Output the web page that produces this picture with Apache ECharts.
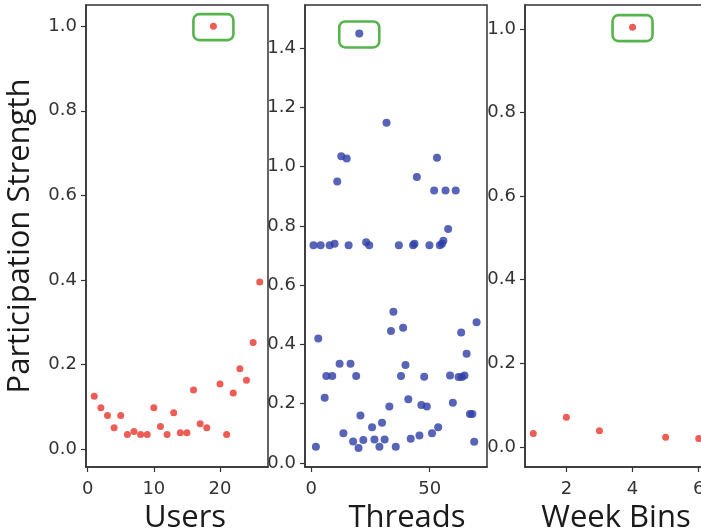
<!DOCTYPE html>
<html><head><meta charset="utf-8">
<script src="https://cdn.jsdelivr.net/npm/echarts@6/dist/echarts.min.js"></script>
<style>html,body{margin:0;padding:0;background:#fff}#c{width:701px;height:532px}</style>
</head><body><div id="c"></div>
<script>
// ---- data ----
const userIds = [1,2,3,4,5,6,7,8,9,10,11,12,13,14,15,16,17,18,19,20,21,22,23,24,25,26];
const userStrength = [0.125,0.098,0.080,0.051,0.080,0.035,0.042,0.035,0.035,0.098,0.054,0.035,0.086,0.039,0.039,0.140,0.060,0.051,1.000,0.154,0.035,0.133,0.190,0.163,0.252,0.395];

const threadIds = [1,2,3,4,5.7,6.4,7.8,8.9,9.9,11,
  12,12.7,13.6,15,15.8,16.6,17.7,19,20,20.3,
  20.8,22,23.2,24.5,25.7,26.7,28.8,29.9,31,31.8,
  33,33.7,34.7,35.7,37,37.9,38.8,39.8,41,42,
  43,43.6,44.6,45.7,46.5,47.7,48.8,49.9,51,51.9,
  53.1,53.6,54.3,55.2,55.8,56.7,57.8,58.6,59.8,61,
  62.2,63.3,63.6,64.7,65.6,67,68,68.8,69.8];
const threadStrength = [0.735,0.054,0.420,0.735,0.220,0.293,0.735,0.293,0.740,0.950,
  0.335,1.035,0.100,1.028,0.735,0.335,0.072,0.293,0.050,1.450,
  0.160,0.077,0.745,0.735,0.120,0.079,0.054,0.135,0.079,1.148,
  0.190,0.445,0.510,0.054,0.735,0.293,0.456,0.330,0.215,0.081,
  0.735,0.740,0.965,0.092,0.195,0.291,0.190,0.735,0.100,0.920,
  1.030,0.120,0.735,0.740,0.750,0.920,0.790,0.295,0.203,0.920,
  0.290,0.440,0.290,0.295,0.368,0.165,0.165,0.071,0.475];

const weekBins = [1,2,3,4,5,6];
const weekStrength = [0.032,0.071,0.039,1.004,0.023,0.020];

const userTicks = [0,10,20];
const threadTicks = [0,50];
const weekTicks = [2,4,6];
const yTicksUsers = [0,0.2,0.4,0.6,0.8,1.0];
const yTicksThreads = [0,0.2,0.4,0.6,0.8,1.0,1.2,1.4];
const yTicksWeeks = [0,0.2,0.4,0.6,0.8,1.0];

// ---- styling ----
const axisColor = '#333';
const tickFont = {color:'#333', fontFamily:'DejaVu Sans', fontSize:18};
const nameFont = {color:'#1a1a1a', fontFamily:'Open Sans', fontSize:31};

function xAxisCfg(idx, min, max, ticks, name, padLeft) {
  return {
    type:'value', gridIndex:idx, min:min, max:max,
    name:name, nameLocation:'middle', nameGap:27,
    nameTextStyle:Object.assign({padding:[0,0,0,padLeft||0]}, nameFont),
    axisLine:{show:true, onZero:false, lineStyle:{color:axisColor, width:1.5}},
    axisTick:{show:true, length:5, customValues:ticks, lineStyle:{color:axisColor, width:1.2}},
    axisLabel:Object.assign({customValues:ticks, margin:13, formatter:v=>String(v)}, tickFont),
    splitLine:{show:false}
  };
}
function yAxisCfg(idx, min, max, ticks, name) {
  const c = {
    type:'value', gridIndex:idx, min:min, max:max,
    axisLine:{show:true, onZero:false, lineStyle:{color:axisColor, width:1.5}},
    axisTick:{show:true, length:5, customValues:ticks, lineStyle:{color:axisColor, width:1.2}},
    axisLabel:Object.assign({customValues:ticks, margin:9, formatter:v=>v.toFixed(1)}, tickFont),
    splitLine:{show:false}
  };
  if (name) {
    c.name = name; c.nameLocation = 'middle'; c.nameGap = 50; c.nameTextStyle = nameFont;
  }
  return c;
}
function pairs(xs, ys){ return xs.map((x,i)=>[x, ys[i]]); }

const gridBase = {top:5, height:462, width:182, show:true, borderColor:axisColor, borderWidth:1.5,
                  backgroundColor:'#fff', containLabel:false, outerBoundsMode:'none'};

const chart = echarts.init(document.getElementById('c'), null, {renderer:'canvas'});
const option = {
  backgroundColor:'#fff',
  animation:false,
  grid:[
    Object.assign({left:86}, gridBase),
    Object.assign({left:305}, gridBase),
    Object.assign({left:525}, gridBase)
  ],
  xAxis:[
    xAxisCfg(0, -0.25, 27.25, userTicks, 'Users', 16),
    xAxisCfg(1, -2.6, 74.2, threadTicks, 'Threads', 22),
    xAxisCfg(2, 0.75, 6.25, weekTicks, 'Week Bins', 0)
  ],
  yAxis:[
    yAxisCfg(0, -0.042, 1.05, yTicksUsers, 'Participation Strength'),
    yAxisCfg(1, -0.014, 1.546, yTicksThreads),
    yAxisCfg(2, -0.048, 1.057, yTicksWeeks)
  ],
  series:[
    {type:'scatter', xAxisIndex:0, yAxisIndex:0, data:pairs(userIds, userStrength), symbolSize:7, itemStyle:{color:'#e8352b'}},
    {type:'scatter', xAxisIndex:1, yAxisIndex:1, data:pairs(threadIds, threadStrength), symbolSize:8, itemStyle:{color:'#2d3da6'}},
    {type:'scatter', xAxisIndex:2, yAxisIndex:2, data:pairs(weekBins, weekStrength), symbolSize:7, itemStyle:{color:'#e8352b'}}
  ]
};
chart.setOption(option);

// green highlight boxes around the maximum of each panel
function maxPoint(xs, ys){ let k=0; ys.forEach((v,i)=>{ if(v>ys[k]) k=i; }); return [xs[k], ys[k]]; }
const peaks = [maxPoint(userIds,userStrength), maxPoint(threadIds,threadStrength), maxPoint(weekBins,weekStrength)];
const boxes = peaks.map((p,i)=>{
  const px = chart.convertToPixel({xAxisIndex:i, yAxisIndex:i}, p);
  const w = 40, h = 26;
  return {type:'rect', shape:{x:px[0]-w/2, y:px[1]-h/2+1, width:w, height:h, r:6},
          style:{fill:'none', stroke:'#55b54a', lineWidth:2.6}, z:10};
});
chart.setOption({graphic:boxes});
</script>
</body></html>
